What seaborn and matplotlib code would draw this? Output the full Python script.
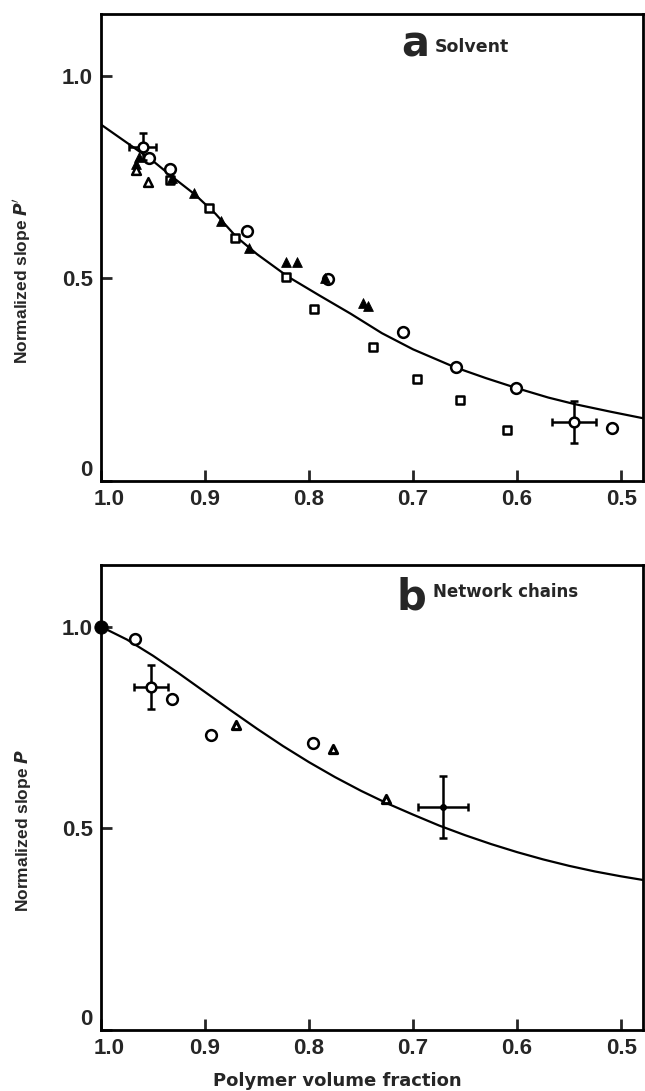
import numpy as np
import pandas as pd
import matplotlib
matplotlib.use("Agg")
import matplotlib.pyplot as plt
import matplotlib.transforms as mtransforms
import seaborn as sns

# ---------------- data: panel a (solvent) ----------------
a_curve_x = [1.0, 0.975, 0.95, 0.93, 0.91, 0.89, 0.87, 0.85, 0.82, 0.79, 0.76, 0.73, 0.70, 0.66, 0.63, 0.60, 0.57, 0.545, 0.51, 0.479]
a_curve_y = [0.88, 0.835, 0.79, 0.748, 0.708, 0.66, 0.603, 0.560, 0.504, 0.458, 0.413, 0.365, 0.325, 0.281, 0.254, 0.229, 0.206, 0.190, 0.171, 0.155]

a_circ_x = [0.954, 0.934, 0.860, 0.782, 0.710, 0.659, 0.601, 0.509]
a_circ_y = [0.798, 0.770, 0.618, 0.499, 0.369, 0.281, 0.229, 0.130]

a_sq_x = [0.934, 0.896, 0.871, 0.822, 0.795, 0.739, 0.696, 0.655, 0.610]
a_sq_y = [0.743, 0.673, 0.599, 0.504, 0.424, 0.332, 0.251, 0.200, 0.126]

a_ftri_x = [0.963, 0.966, 0.932, 0.911, 0.885, 0.858, 0.822, 0.812, 0.785, 0.748, 0.743]
a_ftri_y = [0.800, 0.783, 0.748, 0.710, 0.642, 0.576, 0.541, 0.540, 0.502, 0.439, 0.432]

a_otri_x = [0.966, 0.955]
a_otri_y = [0.768, 0.739]

a_err_x = [0.960, 0.545]
a_err_y = [0.825, 0.145]
a_err_dx = [0.013, 0.021]
a_err_dy = [0.033, 0.052]

# ---------------- data: panel b (network chains) ----------------
b_curve_x = [1.0, 0.975, 0.95, 0.925, 0.90, 0.875, 0.85, 0.825, 0.80, 0.775, 0.75, 0.725, 0.70, 0.675, 0.65, 0.625, 0.60, 0.575, 0.55, 0.525, 0.50, 0.479]
b_curve_y = [1.0, 0.968, 0.928, 0.884, 0.838, 0.792, 0.747, 0.704, 0.664, 0.627, 0.593, 0.562, 0.534, 0.507, 0.483, 0.461, 0.441, 0.423, 0.407, 0.393, 0.381, 0.372]

b_fcirc_x = [1.0]
b_fcirc_y = [1.0]

b_circ_x = [0.967, 0.932, 0.894, 0.796]
b_circ_y = [0.970, 0.821, 0.732, 0.712]

b_tri_x = [0.870, 0.777, 0.726]
b_tri_y = [0.757, 0.697, 0.573]

b_err1_x, b_err1_y, b_err1_dx, b_err1_dy = [0.952], [0.851], [0.016], [0.054]
b_err2_x, b_err2_y, b_err2_dx, b_err2_dy = [0.671], [0.553], [0.024], [0.076]

x_ticks = [1.0, 0.9, 0.8, 0.7, 0.6, 0.5]
x_ticklabels = ["1.0", "0.9", "0.8", "0.7", "0.6", "0.5"]
y_ticks = [0, 0.5, 1.0]
y_ticklabels = ["0", "0.5", "1.0"]

# ---------------- styling ----------------
sns.set_style("ticks")
plt.rcParams["font.family"] = ["Liberation Sans", "DejaVu Sans"]
plt.rcParams["font.weight"] = "bold"

fig = plt.figure(figsize=(6.45, 10.91), dpi=100)
L, R = 101 / 645, 643 / 645
axa = fig.add_axes([L, 1 - 481 / 1091, R - L, (481 - 14) / 1091])
axb = fig.add_axes([L, 1 - 1030 / 1091, R - L, (1030 - 565) / 1091])

k = "black"
ms = 60


def style(ax, ylabel):
    ax.set_xlim(1.0, 0.479)
    ax.set_ylim(0, 1.153)
    ax.set_xticks(x_ticks)
    ax.set_xticklabels(x_ticklabels)
    ax.set_yticks(y_ticks)
    ax.set_yticklabels(y_ticklabels)
    ax.tick_params(direction="in", length=8, width=2, labelsize=16, pad=6)
    for lab in ax.get_xticklabels() + ax.get_yticklabels():
        lab.set_fontweight("bold")
    for s in ax.spines.values():
        s.set_linewidth(2)
        s.set_color(k)
    ax.set_xlabel("")
    ax.set_ylabel(ylabel, fontsize=12.5, fontweight="bold")
    ax.yaxis.set_label_coords(-0.125, 0.43)


# ---- panel a ----
sns.lineplot(x=a_curve_x, y=a_curve_y, ax=axa, color=k, linewidth=1.6, sort=False)
sns.scatterplot(x=a_circ_x, y=a_circ_y, ax=axa, marker="o", s=ms, facecolor="white",
                edgecolor=k, linewidth=1.8, zorder=4)
sns.scatterplot(x=a_sq_x, y=a_sq_y, ax=axa, marker="s", s=40, facecolor="white",
                edgecolor=k, linewidth=1.8, zorder=4)
sns.scatterplot(x=a_ftri_x, y=a_ftri_y, ax=axa, marker="^", s=50, color=k,
                edgecolor=k, zorder=4)
sns.scatterplot(x=a_otri_x, y=a_otri_y, ax=axa, marker="^", s=40, facecolor="white",
                edgecolor=k, linewidth=1.8, zorder=4)
axa.errorbar(a_err_x, a_err_y, xerr=a_err_dx, yerr=a_err_dy, fmt="o", ms=7,
             mfc="white", mec=k, mew=1.8, ecolor=k, elinewidth=1.8, capsize=3,
             capthick=1.8, zorder=5)
style(axa, "Normalized slope $\\mathbfit{P}^{\\prime}$")
axa.text(0.684, 1.078, "a", fontsize=30, fontweight="bold", ha="right", va="center",
         family="DejaVu Sans")
axa.text(0.6075, 1.072, "Solvent", fontsize=12.5, fontweight="bold", ha="right",
         va="center", family="DejaVu Sans")

# ---- panel b ----
sns.lineplot(x=b_curve_x, y=b_curve_y, ax=axb, color=k, linewidth=1.6, sort=False)
sns.scatterplot(x=b_fcirc_x, y=b_fcirc_y, ax=axb, marker="o", s=90, color=k,
                edgecolor=k, zorder=5, clip_on=False)
sns.scatterplot(x=b_circ_x, y=b_circ_y, ax=axb, marker="o", s=ms, facecolor="white",
                edgecolor=k, linewidth=1.8, zorder=4)
sns.scatterplot(x=b_tri_x, y=b_tri_y, ax=axb, marker="^", s=35, facecolor="white",
                edgecolor=k, linewidth=2.2, zorder=4)
axb.errorbar(b_err1_x, b_err1_y, xerr=b_err1_dx, yerr=b_err1_dy, fmt="o", ms=7,
             mfc="white", mec=k, mew=1.8, ecolor=k, elinewidth=1.8, capsize=3,
             capthick=1.8, zorder=5)
axb.errorbar(b_err2_x, b_err2_y, xerr=b_err2_dx, yerr=b_err2_dy, fmt="o", ms=4,
             mfc=k, mec=k, ecolor=k, elinewidth=1.8, capsize=3, capthick=1.8, zorder=5)
style(axb, "Normalized slope $\\mathbfit{P}$")
axb.text(0.716, 1.072, "b", fontsize=30, fontweight="bold", ha="left", va="center",
         family="DejaVu Sans")
axb.text(0.681, 1.087, "Network chains", fontsize=12, fontweight="bold", ha="left",
         va="center", family="DejaVu Sans")
fig.text(337 / 645, 1 - 1081 / 1091, "Polymer volume fraction", fontsize=13,
         fontweight="bold", ha="center", va="center", family="DejaVu Sans")

# small offsets of the "0" and "1.0" tick labels as in the reference
for ax in (axa, axb):
    ax.get_yticklabels()[0].set_va("bottom")
    xl = ax.get_xticklabels()[0]
    xl.set_transform(xl.get_transform() +
                     mtransforms.ScaledTranslation(6 / 72, 0, fig.dpi_scale_trans))

fig.savefig("out.png", dpi=100)
